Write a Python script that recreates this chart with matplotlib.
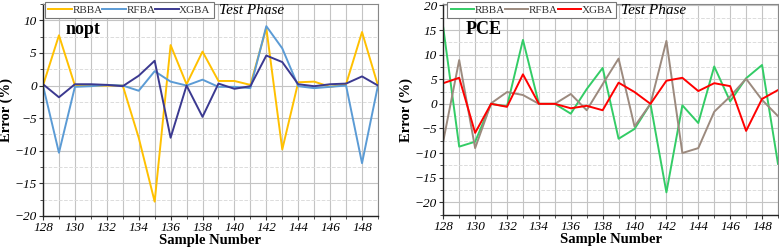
import matplotlib.pyplot as plt
from matplotlib.ticker import MultipleLocator

samples = list(range(128, 150))

# nopt
nopt_rbba = [0, 7.7, 0, 0, 0, 0, -8, -17.8, 6.2, 0.2, 5.2, 0.7, 0.7, 0.1, 8.8, -9.8, 0.5, 0.6, -0.2, 0.2, 8.2, 0]
nopt_rfba = [0, -10.3, -0.2, -0.1, 0.1, 0, -0.8, 2.2, 0.6, 0, 0.9, -0.2, -0.2, -0.4, 9.1, 5.7, -0.1, -0.4, -0.2, 0, -11.9, 0]
nopt_xgba = [0.2, -1.8, 0.2, 0.2, 0.1, -0.1, 1.5, 3.8, -8, 0, -4.8, 0.3, -0.5, -0.1, 4.6, 3.6, 0.2, -0.1, 0.2, 0.3, 1.4, 0]

# PCE
pce_rbba = [15.5, -8.7, -7.7, 0, -0.5, 13, 0, 0, -2, 3, 7.3, -7.1, -5.1, 0, -18, -0.3, -3.9, 7.6, 0.5, 5.2, 7.9, -12.2]
pce_rfba = [-7.6, 8.9, -9, 0.1, 2.4, 1.8, 0, 0, 2, -1.3, 4, 9.2, -4.6, 0, 12.8, -10, -9, -1.6, 1.5, 5.1, 0.8, -2.5]
pce_xgba = [4.2, 5.3, -5.9, 0, -0.6, 6, 0, 0, -0.9, -0.4, -1.3, 4.3, 2.4, 0, 4.7, 5.3, 2.6, 4.2, 3.6, -5.5, 1, 2.8]

labels = ['RBBA', 'RFBA', 'XGBA']

plt.rcParams['font.family'] = ['Liberation Serif', 'DejaVu Serif']

fig = plt.figure(figsize=(7.79, 2.5), dpi=100)
ax1 = fig.add_axes([0.0552, 0.136, 0.430, 0.848])
ax2 = fig.add_axes([0.569, 0.14, 0.4297, 0.844])


def style(ax, ylim, name, series, colors, leg_x, tp_x):
    for s, c, l in zip(series, colors, labels):
        ax.plot(samples, s, color=c, lw=1.4, label=l)
    ax.set_xlim(128, 149)
    ax.set_ylim(*ylim)
    ax.xaxis.set_major_locator(MultipleLocator(2))
    ax.xaxis.set_minor_locator(MultipleLocator(1))
    ax.yaxis.set_major_locator(MultipleLocator(5))
    ax.yaxis.set_minor_locator(MultipleLocator(2.5))
    ax.grid(which='major', color='#c4c4c4', lw=0.8)
    ax.grid(which='minor', axis='x', color='#c4c4c4', lw=0.8)
    ax.grid(which='minor', axis='y', color='#dcdcdc', lw=0.7, ls='--')
    ax.set_axisbelow(True)
    for sp in ['top', 'right']:
        ax.spines[sp].set_color('#888888')
        ax.spines[sp].set_linewidth(0.8)
    for sp in ['left', 'bottom']:
        ax.spines[sp].set_color('#222222')
        ax.spines[sp].set_linewidth(1.0)
    ax.tick_params(which='both', direction='out', colors='#333333', labelcolor='black', labelsize=9.5, pad=1.5)
    ax.tick_params(which='major', length=3)
    ax.tick_params(which='minor', length=2)
    for t in ax.get_xticklabels() + ax.get_yticklabels():
        t.set_fontstyle('italic')
    ax.set_xlabel('Sample Number', fontsize=10.5, fontweight='bold', labelpad=0)
    ax.set_ylabel('Error (%)', fontsize=10.5, fontweight='bold', labelpad=1)
    leg = ax.legend(loc='upper left', bbox_to_anchor=(leg_x, 1.01), ncol=3, fontsize=8,
                    handlelength=2.1, handletextpad=0.05, columnspacing=0.0,
                    borderpad=0.3, borderaxespad=0, fancybox=False, framealpha=1)
    leg.get_frame().set_edgecolor('#777777')
    leg.get_frame().set_linewidth(0.8)
    for t in leg.get_texts():
        t.set_color('#333333')
    ax.text(tp_x, 0.967, 'Test Phase', transform=ax.transAxes, fontsize=11,
            fontstyle='italic', va='center', ha='left', zorder=10)
    ax.text(0.066, 0.88, name, transform=ax.transAxes, fontsize=13,
            fontweight='bold', va='center', ha='left')


style(ax1, (-20, 12.5), 'nopt', [nopt_rbba, nopt_rfba, nopt_xgba],
      ['#FFC000', '#5B9BD5', '#3B3990'], 0.006, 0.525)
style(ax2, (-22.6, 20.3), 'PCE', [pce_rbba, pce_rfba, pce_xgba],
      ['#33CC66', '#9C8A7E', '#FF0000'], 0.012, 0.53)

fig.savefig('out.png', dpi=100)
